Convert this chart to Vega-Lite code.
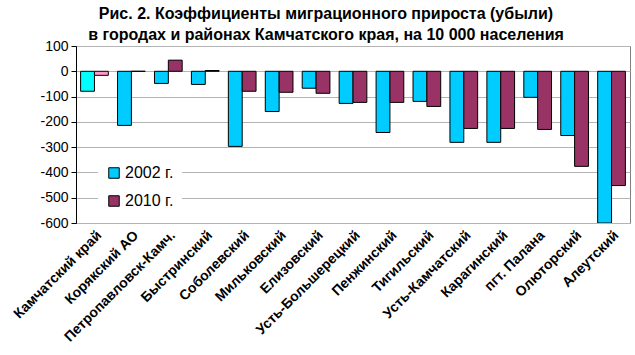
{
  "$schema": "https://vega.github.io/schema/vega-lite/v6.json",
  "width": 554,
  "height": 177,
  "autosize": "none",
  "padding": {"left": 76, "top": 46, "right": 5, "bottom": 132},
  "background": "white",
  "config": {
    "font": "Liberation Sans",
    "view": {"stroke": "#808080", "strokeWidth": 1}
  },
  "title": {
    "text": ["Рис. 2. Коэффициенты миграционного прироста (убыли)", "в городах и районах Камчатского края, на 10 000 населения"],
    "font": "Liberation Sans",
    "fontSize": 16,
    "fontWeight": "bold",
    "color": "black",
    "anchor": "middle",
    "dx": -27,
    "offset": -4,
    "lineHeight": 21
  },
  "data": {
    "values": [
      {"region": "Камчатский край", "year": "2002 г.", "value": -79},
      {"region": "Камчатский край", "year": "2010 г.", "value": -16},
      {"region": "Корякский АО", "year": "2002 г.", "value": -214},
      {"region": "Корякский АО", "year": "2010 г.", "value": 0},
      {"region": "Петропавловск-Камч.", "year": "2002 г.", "value": -48},
      {"region": "Петропавловск-Камч.", "year": "2010 г.", "value": 44},
      {"region": "Быстринский", "year": "2002 г.", "value": -52},
      {"region": "Быстринский", "year": "2010 г.", "value": 3},
      {"region": "Соболевский", "year": "2002 г.", "value": -297},
      {"region": "Соболевский", "year": "2010 г.", "value": -79},
      {"region": "Мильковский", "year": "2002 г.", "value": -159},
      {"region": "Мильковский", "year": "2010 г.", "value": -83},
      {"region": "Елизовский", "year": "2002 г.", "value": -67},
      {"region": "Елизовский", "year": "2010 г.", "value": -87},
      {"region": "Усть-Большерецкий", "year": "2002 г.", "value": -127},
      {"region": "Усть-Большерецкий", "year": "2010 г.", "value": -123},
      {"region": "Пенжинский", "year": "2002 г.", "value": -242},
      {"region": "Пенжинский", "year": "2010 г.", "value": -123},
      {"region": "Тигильский", "year": "2002 г.", "value": -119},
      {"region": "Тигильский", "year": "2010 г.", "value": -139},
      {"region": "Усть-Камчатский", "year": "2002 г.", "value": -281},
      {"region": "Усть-Камчатский", "year": "2010 г.", "value": -226},
      {"region": "Карагинский", "year": "2002 г.", "value": -281},
      {"region": "Карагинский", "year": "2010 г.", "value": -226},
      {"region": "пгт. Палана", "year": "2002 г.", "value": -103},
      {"region": "пгт. Палана", "year": "2010 г.", "value": -230},
      {"region": "Олюторский", "year": "2002 г.", "value": -254},
      {"region": "Олюторский", "year": "2010 г.", "value": -376},
      {"region": "Алеутский", "year": "2002 г.", "value": -600},
      {"region": "Алеутский", "year": "2010 г.", "value": -452}
    ]
  },
  "encoding": {
    "x": {
      "field": "region",
      "type": "nominal",
      "sort": null,
      "scale": {"paddingInner": 0.25, "paddingOuter": 0.125},
      "axis": {
        "title": null,
        "labelAngle": -45,
        "labelAlign": "right",
        "labelBaseline": "top",
        "labelFontSize": 14,
        "labelFontWeight": "bold",
        "labelColor": "black",
        "labelPadding": 5,
        "labelFont": "Liberation Sans",
        "domain": false,
        "ticks": false,
        "labelLimit": 300
      }
    },
    "y": {
      "field": "value",
      "type": "quantitative",
      "scale": {"domain": [-600, 100], "nice": false, "zero": false},
      "axis": {
        "title": null,
        "values": [100, 0, -100, -200, -300, -400, -500, -600],
        "labelExpr": "'' + datum.value",
        "labelOverlap": false,
        "labelFontSize": 14,
        "labelColor": "black",
        "labelFont": "Liberation Sans",
        "gridColor": "#b4b4b4",
        "gridWidth": 1,
        "domainColor": "black",
        "tickColor": "black",
        "tickSize": 5,
        "labelPadding": 3
      }
    }
  },
  "layer": [
    {
      "mark": {"type": "bar", "stroke": "black", "strokeWidth": 1, "clip": true},
      "encoding": {
        "xOffset": {"field": "year", "type": "nominal", "scale": {"paddingInner": 0}},
        "color": {
          "field": "year",
          "type": "nominal",
          "scale": {"domain": ["2002 г.", "2010 г."], "range": ["#00CCFF", "#993366"]},
          "condition": [
            {"test": "datum.region === 'Камчатский край' && datum.year === '2002 г.'", "value": "#00FFFF"},
            {"test": "datum.region === 'Камчатский край' && datum.year === '2010 г.'", "value": "#FF99CC"}
          ],
          "legend": {
            "title": null,
            "orient": "none",
            "legendX": 22,
            "legendY": 111,
            "fillColor": "white",
            "padding": 8,
            "symbolType": "square",
            "symbolSize": 110,
            "symbolStrokeColor": "black",
            "symbolStrokeWidth": 1,
            "symbolOpacity": 1,
            "labelFontSize": 16,
            "labelColor": "black",
            "labelFont": "Liberation Sans",
            "rowPadding": 12,
            "labelOffset": 3
          }
        }
      }
    },
    {
      "mark": {"type": "rule", "color": "black", "strokeWidth": 1},
      "encoding": {"y": {"datum": 0}}
    }
  ]
}
